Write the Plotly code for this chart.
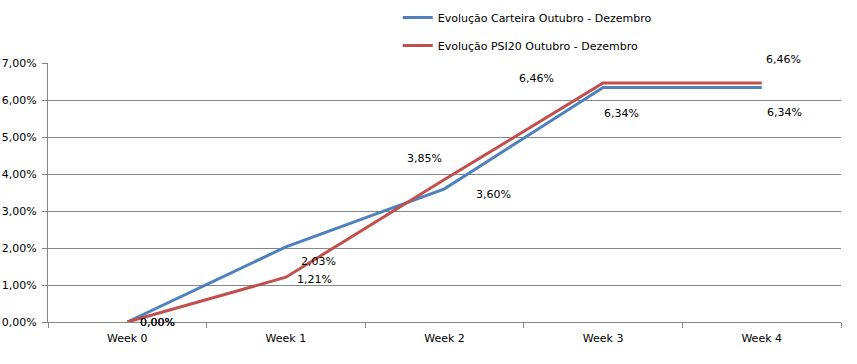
import plotly.graph_objects as go

weeks = ["Week 0", "Week 1", "Week 2", "Week 3", "Week 4"]
carteira = [0.0, 0.0203, 0.0360, 0.0634, 0.0634]
psi20 = [0.0, 0.0121, 0.0385, 0.0646, 0.0646]
names = ["Evolução Carteira Outubro - Dezembro", "Evolução PSI20 Outubro - Dezembro"]
colors = ["#4F81BD", "#C0504D"]

# label offsets (pixels) for each point label
carteira_off = [(30, 0), (33, -15), (49, -6), (18, -26), (23, -25)]
psi20_off = [(30, 0), (29, -2), (-20, 21), (-67, 4), (22, 23)]

FONT = "DejaVu Sans"

fig = go.Figure()
for i, (vals, nm, col) in enumerate([(carteira, names[0], colors[0]), (psi20, names[1], colors[1])]):
    fig.add_trace(go.Scatter(x=weeks, y=vals, mode="lines", name=nm,
                             line=dict(color=col, width=3), legendgroup=str(i)))

def fmt(v):
    return f"{v*100:.2f}%".replace(".", ",")

ann = []
for vals, offs in [(carteira, carteira_off), (psi20, psi20_off)]:
    for w, v, (dx, dy) in zip(weeks, vals, offs):
        ann.append(dict(x=w, y=v, xref="x", yref="y", text=fmt(v), showarrow=False,
                        xshift=dx, yshift=dy, font=dict(family=FONT, size=11, color="#000000")))

fig.update_layout(
    width=857, height=364,
    margin=dict(l=48, r=16, t=63, b=42, autoexpand=False),
    paper_bgcolor="white", plot_bgcolor="white",
    separators=",.",
    font=dict(family=FONT, size=11, color="#000000"),
    showlegend=True,
    legend=dict(x=0.441, y=1.232, xanchor="left", yanchor="top",
                orientation="v", tracegroupgap=9, font=dict(family=FONT, size=11),
                bgcolor="rgba(0,0,0,0)"),
    annotations=ann,
)
fig.update_xaxes(type="category", range=[-0.5, 4.5], showgrid=False, automargin=False,
                 showline=True, linecolor="#868686", linewidth=1,
                 ticks="outside", ticklen=5, tickcolor="#868686", tickson="boundaries",
                 ticklabelstandoff=6, tickfont=dict(family=FONT, size=11))
fig.update_yaxes(range=[0, 0.07], dtick=0.01, tickformat=".2%", automargin=False,
                 showgrid=True, gridcolor="#868686", gridwidth=1,
                 showline=True, linecolor="#868686", linewidth=1,
                 ticks="outside", ticklen=5, tickcolor="#868686",
                 ticklabelstandoff=3,
                 zeroline=False, tickfont=dict(family=FONT, size=11))

fig.write_html("out.html", config={"displayModeBar": False},
               post_script="document.body.style.margin='0';")
